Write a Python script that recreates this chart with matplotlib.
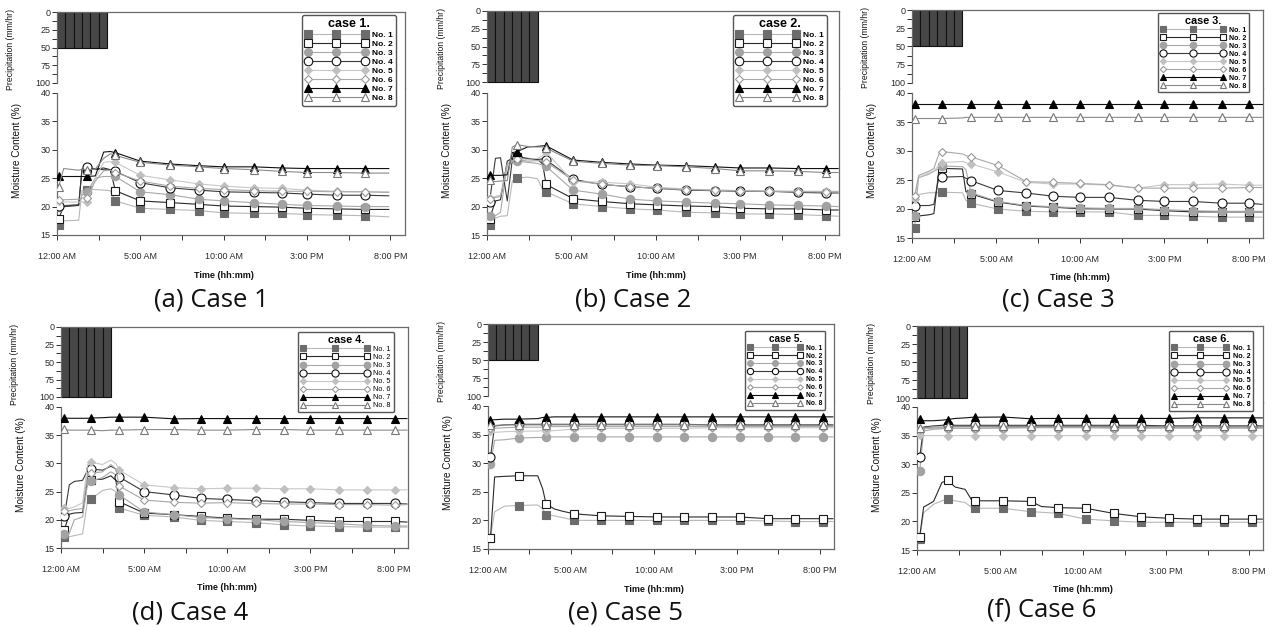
import matplotlib
matplotlib.use('Agg')
import matplotlib.pyplot as plt
from matplotlib.lines import Line2D

# ---------------------------------------------------------------- data
names = ['No. 1', 'No. 2', 'No. 3', 'No. 4', 'No. 5', 'No. 6', 'No. 7', 'No. 8']
case_titles = ['case 1.', 'case 2.', 'case 3.', 'case 4.', 'case 5.', 'case 6.']
captions = ['(a) Case 1', '(b) Case 2', '(c) Case 3', '(d) Case 4', '(e) Case 5', '(f) Case 6']
hour_ticks = [0, 5, 10, 15, 20]
hour_labels = ['12:00 AM', '5:00 AM', '10:00 AM', '3:00 PM', '8:00 PM']

# rainfall (mm/hr), six half-hour blocks
rain_t = [0.25, 0.75, 1.25, 1.75, 2.25, 2.75]
rain1 = [50, 50, 50, 50, 50, 50]
rain2 = [100, 100, 100, 100, 100, 100]
rain3 = [50, 50, 50, 50, 50, 50]
rain4 = [100, 100, 100, 100, 100, 100]
rain5 = [50, 50, 50, 50, 50, 50]
rain6 = [100, 100, 100, 100, 100, 100]

# moisture content (%) -- times in hours after 12:00 AM
t1 = [0.1, 0.4, 1.3, 1.5, 1.8, 2.3, 2.8, 3.2, 3.5, 5.0, 6.8, 8.5, 10.0, 11.8, 13.5, 15.0, 16.8, 18.5, 19.9]
mark1 = [0, 4, 8, 9, 10, 11, 12, 13, 14, 15, 16, 17]
mc1 = [
    [16.8, 17.5, 17.6, 22.8, 23.0, 23.0, 22.9, 22.8, 21.0, 19.7, 19.5, 19.3, 18.9, 18.8, 18.8, 18.6, 18.5, 18.4, 18.2],
    [17.9, 20.0, 20.2, 26.6, 26.7, 26.6, 26.8, 26.5, 22.8, 21.0, 20.7, 20.4, 20.1, 20.0, 19.9, 19.7, 19.6, 19.5, 19.5],
    [20.0, 20.2, 20.4, 22.0, 22.6, 25.0, 25.3, 25.3, 25.3, 22.6, 22.1, 21.3, 21.0, 20.7, 20.4, 20.2, 20.1, 20.0, 20.0],
    [20.1, 20.1, 20.3, 26.5, 27.0, 26.6, 26.5, 26.4, 26.2, 24.2, 23.3, 22.9, 22.6, 22.5, 22.4, 22.2, 22.0, 22.0, 21.9],
    [20.9, 20.8, 20.8, 20.8, 20.8, 25.0, 27.8, 27.9, 27.8, 25.5, 24.7, 24.0, 23.6, 23.3, 23.2, 22.9, 22.7, 22.6, 22.6],
    [21.1, 21.2, 21.3, 21.5, 21.6, 24.5, 26.3, 26.4, 26.0, 24.5, 23.6, 23.2, 23.0, 22.8, 22.7, 22.7, 22.6, 22.6, 22.5],
    [25.3, 25.3, 25.3, 25.3, 25.3, 25.4, 29.6, 29.7, 29.5, 28.0, 27.5, 27.2, 27.0, 27.0, 26.8, 26.7, 26.7, 26.7, 26.7],
    [23.5, 26.7, 26.4, 26.6, 26.5, 26.6, 28.5, 29.3, 29.0, 27.8, 27.3, 27.0, 26.7, 26.5, 26.2, 26.0, 26.0, 25.9, 25.9],
]

t2 = [0.15, 0.5, 0.8, 1.2, 1.5, 1.8, 2.4, 3.0, 3.3, 3.5, 5.1, 6.8, 8.5, 10.1, 11.8, 13.5, 15.0, 16.7, 18.4, 20.1, 20.8]
mark2 = [0, 5, 9, 10, 11, 12, 13, 14, 15, 16, 17, 18, 19]
mc2 = [
    [16.8, 18.0, 18.3, 18.4, 24.5, 25.0, 25.2, 24.9, 23.0, 22.6, 20.5, 20.0, 19.6, 19.4, 19.0, 18.9, 18.7, 18.7, 18.6, 18.4, 18.3],
    [17.8, 21.0, 21.2, 28.0, 28.5, 28.8, 28.4, 28.3, 27.5, 23.9, 21.4, 20.9, 20.5, 20.3, 20.1, 20.0, 19.7, 19.6, 19.6, 19.4, 19.4],
    [18.3, 18.4, 19.0, 27.5, 27.8, 28.0, 27.8, 27.6, 27.3, 27.1, 22.9, 22.2, 21.3, 21.0, 20.8, 20.6, 20.5, 20.3, 20.2, 20.1, 20.0],
    [20.8, 28.5, 28.6, 21.0, 28.3, 28.7, 28.5, 28.3, 28.4, 28.2, 24.8, 23.9, 23.5, 23.2, 22.9, 22.8, 22.7, 22.7, 22.5, 22.4, 22.4],
    [21.5, 21.8, 22.0, 27.0, 28.0, 28.5, 28.3, 28.5, 29.0, 29.6, 24.4, 24.3, 24.0, 23.4, 23.1, 22.9, 22.8, 22.8, 22.7, 22.7, 22.7],
    [21.4, 21.6, 21.8, 27.5, 28.0, 28.3, 28.0, 28.1, 28.0, 27.9, 24.6, 23.9, 23.5, 23.2, 23.0, 22.9, 22.8, 22.7, 22.6, 22.6, 22.6],
    [25.5, 25.5, 25.5, 25.6, 29.5, 29.7, 30.5, 30.6, 30.7, 30.7, 28.2, 27.8, 27.5, 27.3, 27.2, 27.0, 26.8, 26.8, 26.7, 26.7, 26.7],
    [24.6, 24.4, 24.5, 24.6, 30.5, 30.9, 30.6, 30.5, 30.5, 30.3, 28.0, 27.6, 27.3, 27.2, 27.0, 26.7, 26.3, 26.3, 26.2, 26.0, 26.0],
]

t3 = [0.15, 0.4, 1.0, 1.3, 1.6, 1.8, 3.0, 3.2, 3.5, 5.1, 6.8, 8.4, 10.0, 11.7, 13.4, 15.0, 16.7, 18.4, 20.0, 20.8]
mark3 = [0, 5, 8, 9, 10, 11, 12, 13, 14, 15, 16, 17, 18]
mc3 = [
    [16.8, 22.5, 22.8, 22.8, 22.9, 22.9, 22.8, 21.5, 21.0, 20.0, 19.6, 19.5, 19.5, 19.5, 18.9, 18.9, 18.75, 18.6, 18.6, 18.6],
    [18.6, 18.8, 19.0, 19.2, 26.8, 27.0, 26.9, 23.0, 22.6, 21.2, 20.5, 20.3, 20.05, 20.0, 20.0, 19.7, 19.5, 19.5, 19.5, 19.5],
    [18.8, 25.4, 26.0, 26.5, 27.0, 27.4, 27.3, 26.8, 22.8, 21.3, 20.6, 20.4, 20.2, 20.1, 20.1, 19.9, 19.7, 19.6, 19.6, 19.6],
    [20.6, 20.6, 20.6, 20.8, 25.6, 25.5, 25.6, 25.3, 24.9, 23.2, 22.75, 22.2, 22.0, 22.0, 21.5, 21.3, 21.3, 21.0, 21.0, 20.8],
    [21.8, 25.5, 26.2, 26.6, 27.5, 28.0, 28.2, 28.0, 27.8, 26.4, 24.6, 24.3, 24.3, 24.1, 23.6, 24.2, 24.2, 24.3, 24.1, 24.1],
    [22.2, 25.8, 26.5, 27.0, 29.5, 29.9, 29.5, 29.2, 29.0, 27.5, 24.7, 24.6, 24.4, 24.2, 23.6, 23.6, 23.6, 23.6, 23.7, 23.7],
    [38.1, 38.1, 38.1, 38.1, 38.1, 38.1, 38.1, 38.1, 38.1, 38.1, 38.1, 38.1, 38.1, 38.1, 38.1, 38.1, 38.1, 38.1, 38.1, 38.1],
    [35.6, 35.6, 35.6, 35.6, 35.6, 35.6, 35.7, 35.8, 35.8, 35.8, 35.8, 35.8, 35.8, 35.8, 35.8, 35.8, 35.8, 35.8, 35.8, 35.8],
]

t4 = [0.2, 0.5, 0.8, 1.3, 1.6, 1.8, 2.5, 3.0, 3.3, 3.5, 5.0, 6.8, 8.4, 10.0, 11.7, 13.4, 15.0, 16.7, 18.4, 20.1, 20.8]
mark4 = [0, 5, 9, 10, 11, 12, 13, 14, 15, 16, 17, 18, 19]
mc4 = [
    [16.9, 17.0, 17.2, 17.5, 23.5, 23.7, 25.2, 25.5, 25.0, 22.1, 20.8, 20.5, 19.9, 19.7, 19.5, 19.1, 18.9, 18.8, 18.7, 18.7, 18.7],
    [18.2, 21.0, 21.2, 21.3, 27.0, 27.1, 27.2, 27.8, 27.0, 23.2, 21.2, 20.9, 20.6, 20.3, 20.1, 20.1, 19.9, 19.7, 19.7, 19.7, 19.6],
    [17.4, 17.6, 20.0, 20.5, 26.5, 26.8, 27.5, 28.5, 28.0, 24.4, 21.4, 20.9, 20.4, 20.2, 20.0, 19.7, 19.5, 19.3, 19.0, 18.9, 18.9],
    [20.6, 26.2, 26.8, 27.0, 28.8, 29.0, 28.8, 29.5, 29.0, 27.6, 25.0, 24.4, 23.8, 23.6, 23.4, 23.2, 23.05, 22.9, 22.9, 22.9, 22.8],
    [22.1, 22.0, 22.3, 23.0, 29.8, 30.2, 29.8, 30.6, 30.0, 28.8, 26.2, 25.7, 25.5, 25.6, 25.6, 25.5, 25.5, 25.3, 25.3, 25.3, 25.3],
    [21.5, 21.6, 21.8, 22.0, 28.0, 28.3, 28.5, 29.8, 29.0, 26.0, 23.5, 23.1, 22.95, 23.05, 22.9, 22.8, 22.8, 22.7, 22.7, 22.6, 22.7],
    [38.05, 38.0, 38.0, 38.0, 38.0, 38.05, 38.1, 38.2, 38.2, 38.2, 38.2, 37.9, 37.95, 37.95, 37.95, 37.95, 37.95, 37.95, 37.95, 37.95, 37.95],
    [36.05, 35.9, 35.9, 35.9, 35.9, 35.9, 35.8, 35.9, 35.9, 35.9, 36.0, 36.0, 35.9, 35.9, 36.0, 36.0, 35.9, 35.9, 35.9, 35.9, 35.9],
]

t5 = [0.15, 0.4, 1.0, 1.85, 3.0, 3.3, 3.5, 4.0, 4.5, 5.2, 6.8, 8.5, 10.2, 11.8, 13.5, 15.2, 16.9, 18.5, 20.2, 20.8]
mark5 = [0, 3, 6, 9, 10, 11, 12, 13, 14, 15, 16, 17, 18]
mc5 = [
    [17.0, 21.5, 22.5, 22.6, 22.7, 22.0, 21.0, 20.8, 20.5, 20.0, 20.0, 20.0, 20.0, 20.0, 20.0, 20.0, 19.9, 19.8, 19.8, 19.8],
    [17.0, 27.6, 27.7, 27.8, 27.8, 25.5, 22.9, 22.0, 21.6, 21.15, 20.8, 20.7, 20.6, 20.6, 20.6, 20.6, 20.3, 20.3, 20.3, 20.3],
    [29.8, 34.0, 34.1, 34.4, 34.5, 34.5, 34.6, 34.6, 34.6, 34.6, 34.6, 34.6, 34.6, 34.6, 34.6, 34.6, 34.6, 34.6, 34.6, 34.6],
    [31.1, 36.5, 36.7, 36.8, 36.8, 36.8, 36.8, 36.8, 36.8, 36.8, 36.8, 36.8, 36.8, 36.8, 36.7, 36.7, 36.7, 36.7, 36.7, 36.7],
    [35.6, 35.4, 35.5, 35.6, 35.6, 35.7, 35.6, 35.7, 35.8, 36.0, 36.1, 36.1, 36.1, 36.1, 36.2, 36.2, 36.2, 36.2, 36.2, 36.2],
    [36.2, 36.1, 36.2, 36.3, 36.3, 36.3, 36.4, 36.4, 36.4, 36.4, 36.4, 36.4, 36.4, 36.4, 36.4, 36.4, 36.4, 36.4, 36.4, 36.4],
    [37.6, 37.6, 37.7, 37.7, 37.8, 38.0, 38.0, 38.1, 38.1, 38.1, 38.1, 38.1, 38.1, 38.1, 38.1, 38.1, 38.1, 38.1, 38.1, 38.1],
    [36.6, 36.6, 36.7, 36.7, 36.7, 36.7, 36.7, 36.7, 36.7, 36.7, 36.7, 36.7, 36.7, 36.7, 36.7, 36.6, 36.6, 36.6, 36.6, 36.6],
]

t6 = [0.16, 0.4, 1.0, 1.5, 1.84, 2.3, 2.9, 3.3, 3.5, 5.16, 6.84, 7.5, 8.5, 10.16, 11.84, 13.5, 15.16, 16.84, 18.5, 20.16, 20.8]
mark6 = [0, 4, 8, 9, 10, 12, 13, 14, 15, 16, 17, 18, 19]
mc6 = [
    [16.9, 21.5, 23.0, 23.6, 23.9, 23.6, 23.3, 22.4, 22.3, 22.3, 21.7, 21.6, 21.4, 20.4, 20.1, 19.85, 19.85, 19.85, 19.85, 19.85, 19.85],
    [17.3, 22.5, 23.5, 26.8, 27.2, 26.0, 25.6, 23.7, 23.6, 23.6, 23.5, 22.6, 22.4, 22.3, 21.4, 20.8, 20.55, 20.4, 20.4, 20.4, 20.4],
    [28.8, 35.8, 36.1, 36.2, 36.3, 36.3, 36.3, 36.3, 36.3, 36.3, 36.4, 36.4, 36.4, 36.4, 36.4, 36.4, 36.4, 36.4, 36.4, 36.4, 36.4],
    [31.2, 36.5, 36.7, 36.8, 36.9, 36.8, 36.8, 36.8, 36.8, 36.8, 36.8, 36.8, 36.8, 36.8, 36.8, 36.8, 36.7, 36.7, 36.7, 36.7, 36.7],
    [35.15, 35.0, 35.0, 35.0, 35.0, 35.0, 35.0, 35.0, 35.0, 35.0, 35.0, 35.0, 35.0, 35.0, 35.0, 35.0, 35.0, 35.0, 35.0, 35.0, 35.0],
    [36.2, 36.2, 36.3, 36.3, 36.3, 36.3, 36.3, 36.3, 36.3, 36.4, 36.4, 36.4, 36.4, 36.4, 36.3, 36.3, 36.3, 36.3, 36.3, 36.3, 36.3],
    [37.95, 37.6, 37.6, 37.7, 37.8, 38.0, 38.1, 38.2, 38.2, 38.25, 37.95, 38.0, 38.0, 38.0, 38.0, 38.0, 38.0, 38.1, 38.1, 38.1, 38.1],
    [36.3, 36.4, 36.5, 36.5, 36.6, 36.6, 36.6, 36.6, 36.6, 36.6, 36.6, 36.6, 36.6, 36.6, 36.6, 36.6, 36.6, 36.6, 36.6, 36.6, 36.6],
]

times = [t1, t2, t3, t4, t5, t6]
marks = [mark1, mark2, mark3, mark4, mark5, mark6]
moisture = [mc1, mc2, mc3, mc4, mc5, mc6]
rains = [rain1, rain2, rain3, rain4, rain5, rain6]

# ---------------------------------------------------------------- styles
styles = [
    dict(color='#b8b8b8', marker='s', ms=5.5, mfc='#6c6c6c', mec='#6c6c6c'),
    dict(color='#2a2a2a', marker='s', ms=5.5, mfc='white', mec='#1a1a1a'),
    dict(color='#a8a8a8', marker='o', ms=6, mfc='#a2a2a2', mec='#a2a2a2'),
    dict(color='#3a3a3a', marker='o', ms=6.5, mfc='white', mec='#111111'),
    dict(color='#c8c8c8', marker='D', ms=4, mfc='#c0c0c0', mec='#c0c0c0'),
    dict(color='#a8a8a8', marker='D', ms=4, mfc='white', mec='#999999'),
    dict(color='#111111', marker='^', ms=6, mfc='black', mec='black'),
    dict(color='#8a8a8a', marker='^', ms=6, mfc='white', mec='#777777'),
]

W, H = 1273, 627
fig = plt.figure(figsize=(W / 100, H / 100), dpi=100)
plt.rcParams['font.family'] = 'Liberation Sans'

# panel geometry in pixels: x of 0 h, px per hour, y of rain 0, rain 100, mc 40, mc 15
geo = [
    (57, 16.67, 12, 83, 93, 235),
    (487, 16.88, 11, 82, 93, 235),
    (912, 16.83, 10, 83, 93, 238),
    (61, 16.63, 327, 397, 407, 548),
    (488, 16.58, 324, 396, 406, 549),
    (917, 16.60, 326, 398, 407, 550),
]
cap_xy = [(211, 300), (633, 300), (1058, 300), (190, 613), (625, 613), (1042, 610)]
leg_xy = [(302, 15), (733, 15), (1158, 13), (298, 332), (745, 331), (1169, 331)]
leg_fs = [6.0, 6.0, 5.0, 5.2, 4.8, 5.2]
leg_title_fs = [9.0, 9.0, 7.8, 7.8, 7.2, 7.8]
leg_hl = [7.4, 7.4, 9.2, 9.4, 8.2, 7.8]
leg_ms = [0.95, 0.95, 0.8, 0.8, 0.7, 0.8]
leg_bold = [True, True, True, False, True, True]
XMAX = 20.85
spine_col = '#6a6a6a'

for i in range(6):
    x0, pph, y0, y100, y40, y15 = geo[i]
    wpx = XMAX * pph
    yb = (y100 + y40) / 2.0

    # rainfall axes (inverted)
    axp = fig.add_axes([x0 / W, 1 - yb / H, wpx / W, (yb - y0) / H])
    axp.bar(rain_t, rains[i], width=0.5, color='#474747', edgecolor='#111111', linewidth=0.8)
    axp.set_xlim(0, XMAX)
    axp.set_ylim(100 * (yb - y0) / (y100 - y0), 0)
    axp.set_yticks([0, 25, 50, 75, 100])
    axp.set_yticks([12.5, 37.5, 62.5, 87.5], minor=True)
    axp.set_xticks([])
    axp.spines['bottom'].set_visible(False)
    axp.spines['left'].set_bounds(0, 100)
    for s in axp.spines.values():
        s.set_color(spine_col)
        s.set_linewidth(0.9)
    axp.tick_params(axis='y', which='both', direction='out', length=3.5, width=0.7,
                    color='#333333', labelsize=6.5, labelcolor='#2a2a2a', pad=1)

    # moisture axes
    mpu = (y15 - y40) / 25.0
    axm = fig.add_axes([x0 / W, 1 - y15 / H, wpx / W, (y15 - yb) / H])
    t = times[i]
    for k in range(8):
        st = styles[k]
        axm.plot(t, moisture[i][k], color=st['color'], lw=0.8, marker=st['marker'],
                 ms=st['ms'], mfc=st['mfc'], mec=st['mec'], mew=0.8,
                 markevery=marks[i], zorder=3 + k * 0.1)
    axm.set_xlim(0, XMAX)
    axm.set_ylim(15, 40 + (y40 - yb) / mpu)
    axm.set_yticks([15, 20, 25, 30, 35, 40])
    axm.set_xticks(hour_ticks)
    axm.set_xticklabels(hour_labels)
    axm.set_xticks([2.5, 7.5, 12.5, 17.5], minor=True)
    axm.spines['top'].set_visible(False)
    axm.spines['left'].set_bounds(15, 40)
    for s in axm.spines.values():
        s.set_color(spine_col)
        s.set_linewidth(0.9)
    axm.tick_params(axis='both', which='both', direction='out', length=3.5, width=0.7,
                    color='#333333', labelsize=6.5, labelcolor='#2a2a2a')
    axm.tick_params(axis='y', pad=1)
    axm.tick_params(axis='x', pad=9)

    # axis titles
    fig.text((x0 - 46) / W, 1 - (y0 + 37) / H, 'Precipitation (mm/hr)', rotation=90,
             ha='center', va='center', fontsize=6.2, color='#111111')
    fig.text((x0 - 40) / W, 1 - (y40 + 57) / H, 'Moisture Content (%)', rotation=90,
             ha='center', va='center', fontsize=7.2, color='#111111')
    fig.text((x0 + 10 * pph) / W, 1 - (y15 + 40) / H, 'Time (hh:mm)', ha='center',
             va='center', fontsize=6.5, fontweight='bold', color='#111111')

    # legend
    handles = [Line2D([], [], color=st['color'], lw=0.8, marker=st['marker'], ms=st['ms'],
                      mfc=st['mfc'], mec=st['mec'], mew=0.8) for st in styles]
    lx, ly = leg_xy[i]
    leg = fig.legend(handles, names, loc='upper left', bbox_to_anchor=(lx / W, 1 - ly / H),
                     numpoints=3, handlelength=leg_hl[i], handletextpad=0.6,
                     labelspacing=0.14, borderpad=0.4, borderaxespad=0,
                     markerscale=leg_ms[i],
                     prop={'size': leg_fs[i], 'weight': 'bold' if leg_bold[i] else 'normal'},
                     title=case_titles[i],
                     title_fontproperties={'size': leg_title_fs[i], 'weight': 'bold'},
                     fancybox=True, framealpha=1)
    leg.get_frame().set_edgecolor('#555555')
    leg.get_frame().set_linewidth(1.0)

    # caption
    cx, cy = cap_xy[i]
    fig.text(cx / W, 1 - cy / H, captions[i], ha='center', va='center',
             fontsize=18.5, fontfamily='Open Sans', color='#111111')

fig.savefig('out.png', dpi=100)
